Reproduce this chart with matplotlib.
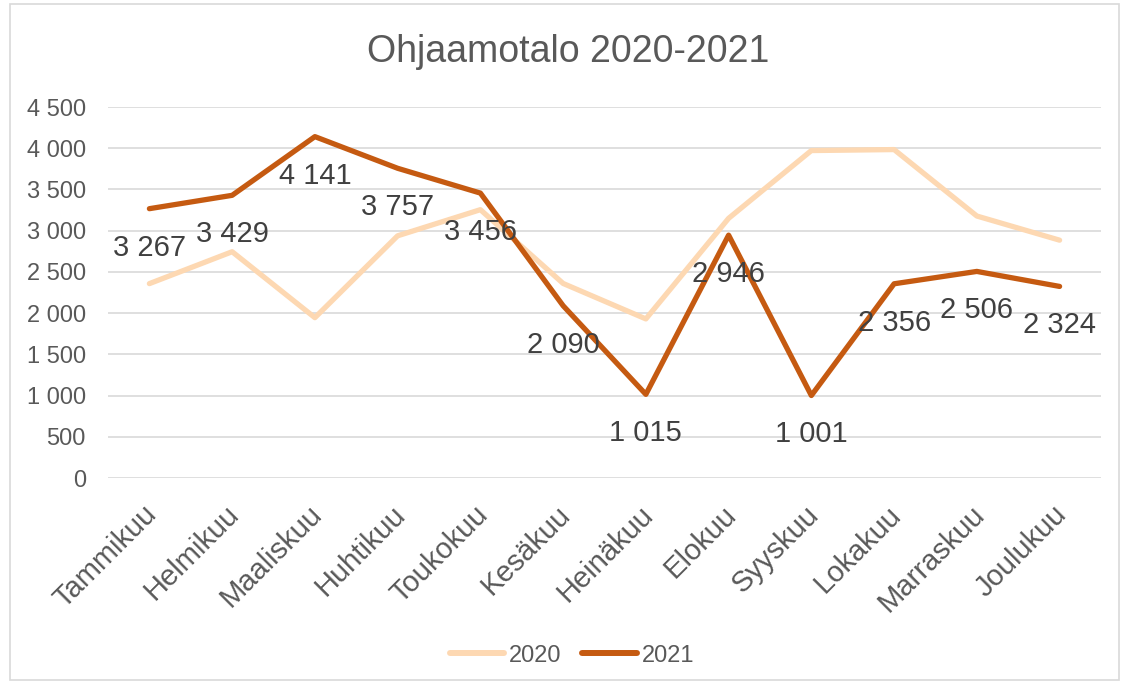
import matplotlib.pyplot as plt
from matplotlib.patches import Rectangle
from matplotlib.ticker import FuncFormatter
from matplotlib.transforms import ScaledTranslation

plt.rcParams['font.family'] = ['Liberation Sans', 'DejaVu Sans']

months = ["Tammikuu", "Helmikuu", "Maaliskuu", "Huhtikuu", "Toukokuu", "Kesäkuu",
          "Heinäkuu", "Elokuu", "Syyskuu", "Lokakuu", "Marraskuu", "Joulukuu"]
v2020 = [2358, 2745, 1945, 2938, 3255, 2360, 1930, 3150, 3972, 3984, 3178, 2885]
v2021 = [3267, 3429, 4141, 3757, 3456, 2090, 1015, 2946, 1001, 2356, 2506, 2324]

TXT = "#595959"
C20 = "#FDD8B2"
C21 = "#C55A11"

def fi(v):
    return f"{int(v):,}".replace(",", " ")

fig = plt.figure(figsize=(11.3, 6.83), dpi=100)
fig.patches.append(Rectangle((0.009, 0.004), 0.981, 0.99, transform=fig.transFigure,
                             fill=False, edgecolor="#D9D9D9", linewidth=1.2))
ax = fig.add_axes([0.0956, 0.3001, 0.8787, 0.5432])

x = list(range(len(months)))
ax.plot(x, v2020, color=C20, lw=3.8, solid_capstyle="round", label="2020", zorder=3)
ax.plot(x, v2021, color=C21, lw=3.8, solid_capstyle="round", label="2021", zorder=4)

for xi, v in zip(x, v2021):
    ax.annotate(fi(v), (xi, v), xytext=(0, -28), textcoords="offset points",
                ha="center", va="center", fontsize=21, color="#404040", zorder=5)

ax.set_xlim(-0.5, 11.5)
ax.set_ylim(0, 4500)
ax.set_yticks(range(0, 4501, 500))
ax.yaxis.set_major_formatter(FuncFormatter(lambda v, p: fi(v)))
ax.grid(axis="y", color="#D9D9D9", lw=1.2)
ax.set_axisbelow(True)
for s in ax.spines.values():
    s.set_visible(False)
ax.tick_params(axis="both", length=0, colors=TXT, labelsize=17)
ax.tick_params(axis="y", pad=16)
ax.set_xticks(x)
ax.set_xticklabels(months, rotation=45, ha="right", rotation_mode="anchor", fontsize=21)
ax.tick_params(axis="x", pad=16)
shift = ScaledTranslation(-7 / 100, 0, fig.dpi_scale_trans)
for lab in ax.get_xticklabels():
    lab.set_transform(lab.get_transform() + shift)

fig.text(0.503, 0.924, "Ohjaamotalo 2020-2021", ha="center", va="center",
         fontsize=27, color=TXT)

leg = fig.legend(loc="center", bbox_to_anchor=(0.506, 0.04), ncol=2, frameon=False,
                 fontsize=17, labelcolor=TXT, handlelength=2.3, handletextpad=0.2,
                 columnspacing=0.9)
for h in leg.get_lines():
    h.set_linewidth(4.3)

fig.savefig("out.png", dpi=100)
